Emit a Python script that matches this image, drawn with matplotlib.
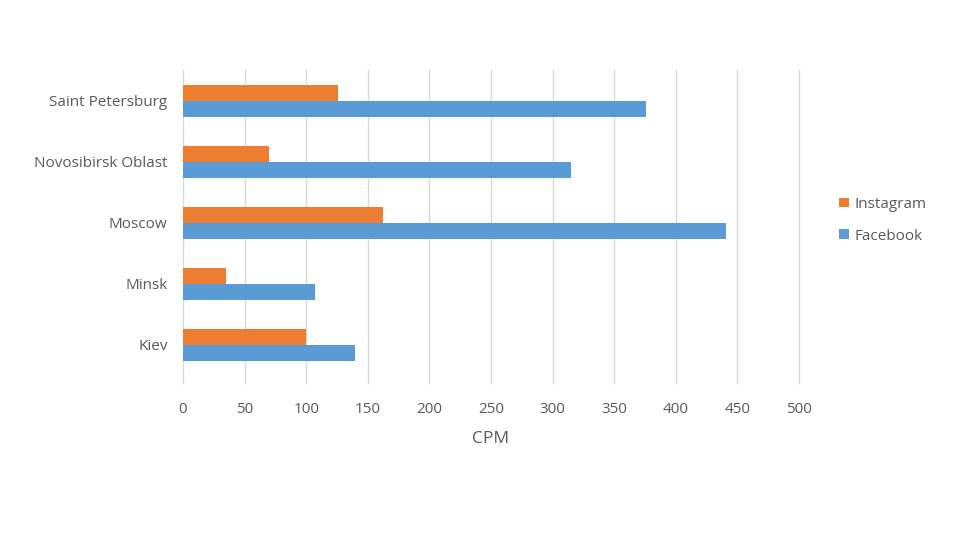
import matplotlib
matplotlib.use("Agg")
import matplotlib.pyplot as plt
import numpy as np

cities = ["Kiev", "Minsk", "Moscow", "Novosibirsk Oblast", "Saint Petersburg"]
instagram = [100, 35, 162, 70, 126]
facebook = [140, 107, 441, 315, 376]
xticks = [0, 50, 100, 150, 200, 250, 300, 350, 400, 450, 500]

plt.rcParams['font.family'] = ['Open Sans', 'DejaVu Sans']
grey = '#595959'

fig = plt.figure(figsize=(9.6, 5.4), dpi=100)
ax = fig.add_axes([0.1906, 0.291, 0.6417, 0.579])

y = np.arange(len(cities))
h = 0.26
ax.barh(y - h/2, facebook, height=h, color='#5B9BD5', label='Facebook', zorder=3)
ax.barh(y + h/2, instagram, height=h, color='#ED7D31', label='Instagram', zorder=3)

ax.set_xlim(0, 500)
ax.set_ylim(-0.62, 4.5)
ax.set_xticks(xticks)
ax.set_xticklabels([str(t) for t in xticks], fontsize=11, color=grey)
ax.set_yticks(y)
ax.set_yticklabels(cities, fontsize=11, color=grey)
ax.tick_params(axis='y', length=0, pad=11)
ax.tick_params(axis='x', length=0, pad=14)
ax.xaxis.grid(True, color='#D9D9D9', linewidth=1, zorder=0)
for gl in ax.get_xgridlines():
    gl.set_clip_on(False)
ax.yaxis.grid(False)
for s in ax.spines.values():
    s.set_visible(False)
ax.set_xlabel('CPM', fontsize=12.5, color=grey, labelpad=10)

handles, labels = ax.get_legend_handles_labels()
leg = fig.legend(handles[::-1], labels[::-1], loc='center left', bbox_to_anchor=(0.86, 0.592),
                 frameon=False, fontsize=11, handlelength=0.6, handleheight=0.6,
                 handletextpad=0.4, labelspacing=1.1, labelcolor=grey)

fig.savefig('out.png', dpi=100)
